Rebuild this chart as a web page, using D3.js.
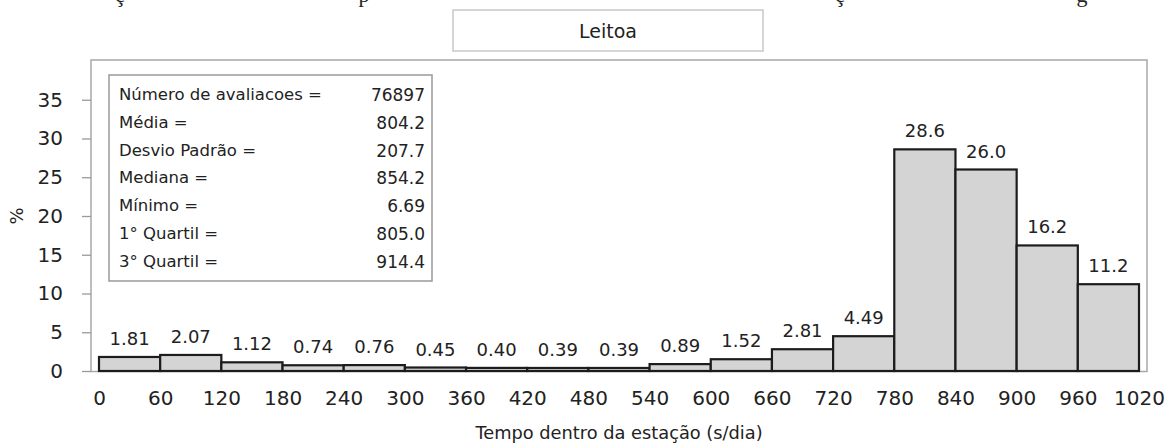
<!DOCTYPE html>
<html><head><meta charset="utf-8">
<script src="https://cdn.jsdelivr.net/npm/d3@7"></script>
<style>body{margin:0;background:#fff}svg{display:block}text{font-family:"DejaVu Sans",sans-serif;fill:#222}</style>
</head><body><svg id="c" width="1169" height="446"></svg>
<script>
const binEdges = [0,60,120,180,240,300,360,420,480,540,600,660,720,780,840,900,960,1020];
const percents = [1.81,2.07,1.12,0.74,0.76,0.45,0.40,0.39,0.39,0.89,1.52,2.81,4.49,28.6,26.0,16.2,11.2];
const barLabels = ["1.81","2.07","1.12","0.74","0.76","0.45","0.40","0.39","0.39","0.89","1.52","2.81","4.49","28.6","26.0","16.2","11.2"];
const yTicks = [0,5,10,15,20,25,30,35];
const statNames = ["Número de avaliacoes =","Média =","Desvio Padrão =","Mediana =","Mínimo =","1° Quartil =","3° Quartil ="];
const statValues = ["76897","804.2","207.7","854.2","6.69","805.0","914.4"];
const chartTitle = "Leitoa";
const xTitle = "Tempo dentro da estação (s/dia)";
const yTitle = "%";

const svg = d3.select("#c");
const x = d3.scaleLinear().domain([0,1020]).range([99,1139]);
const y = d3.scaleLinear().domain([0,40]).range([371,61]);

// cut-off line of document text above (only descenders visible, as in the reference)
[["ç",120],["p",364],["ç",840],["g",1082]].forEach(([t,px])=>{
  svg.append("text").attr("x",px).attr("y",2).attr("text-anchor","middle")
    .style("font-family","'Liberation Serif',serif").style("font-size","22px").text(t);
});

// title box
svg.append("rect").attr("x",453).attr("y",10).attr("width",310).attr("height",41)
  .attr("fill","#fff").attr("stroke","#c8c8c8").attr("stroke-width",1.5);
svg.append("text").attr("x",608).attr("y",38).attr("text-anchor","middle")
  .style("font-size","19px").text(chartTitle);

// plot frame
svg.append("rect").attr("x",91).attr("y",60).attr("width",1056).attr("height",311.5)
  .attr("fill","#fff").attr("stroke","#a8a8a8").attr("stroke-width",1.5);

// y axis
const ya = svg.append("g").attr("transform","translate(91,0)")
  .call(d3.axisLeft(y).tickValues(yTicks).tickSize(9).tickPadding(19).tickFormat(d3.format("d")));
ya.select(".domain").remove();
ya.selectAll(".tick line").attr("stroke","#999").attr("stroke-width",1.3);
ya.selectAll(".tick text").style("font-size","20px").style("font-family","'DejaVu Sans',sans-serif").attr("fill","#222");

// x axis
const xa = svg.append("g").attr("transform","translate(0,371)")
  .call(d3.axisBottom(x).tickValues(binEdges).tickSize(0).tickPadding(20).tickFormat(d3.format("d")));
xa.select(".domain").remove();
xa.selectAll(".tick text").style("font-size","20px").style("font-family","'DejaVu Sans',sans-serif").attr("fill","#222");

// bars
const bars = percents.map((v,i)=>({x0:binEdges[i],x1:binEdges[i+1],v,lab:barLabels[i]}));
svg.append("g").selectAll("rect").data(bars).join("rect")
  .attr("x",d=>x(d.x0)).attr("width",d=>x(d.x1)-x(d.x0))
  .attr("y",d=>y(d.v)).attr("height",d=>y(0)-y(d.v))
  .attr("fill","#d4d4d4").attr("stroke","#1c1c1c").attr("stroke-width",2.2);
svg.append("g").selectAll("text").data(bars).join("text")
  .attr("x",d=>(x(d.x0)+x(d.x1))/2).attr("y",d=>y(d.v)-12)
  .attr("text-anchor","middle").style("font-size","18px").text(d=>d.lab);

// stats box
svg.append("rect").attr("x",109).attr("y",75).attr("width",323).attr("height",206)
  .attr("fill","#fff").attr("stroke","#999").attr("stroke-width",1.5);
statNames.forEach((s,i)=>{
  svg.append("text").attr("x",119).attr("y",100+27.8*i).style("font-size","16.5px").text(s);
  svg.append("text").attr("x",425).attr("y",101+27.8*i).attr("text-anchor","end")
    .style("font-size","17px").text(statValues[i]);
});

// axis titles
svg.append("text").attr("x",619).attr("y",439).attr("text-anchor","middle")
  .style("font-size","17.8px").text(xTitle);
svg.append("text").attr("transform","translate(23,216) rotate(-90)").attr("text-anchor","middle")
  .style("font-size","18px").text(yTitle);
</script></body></html>
